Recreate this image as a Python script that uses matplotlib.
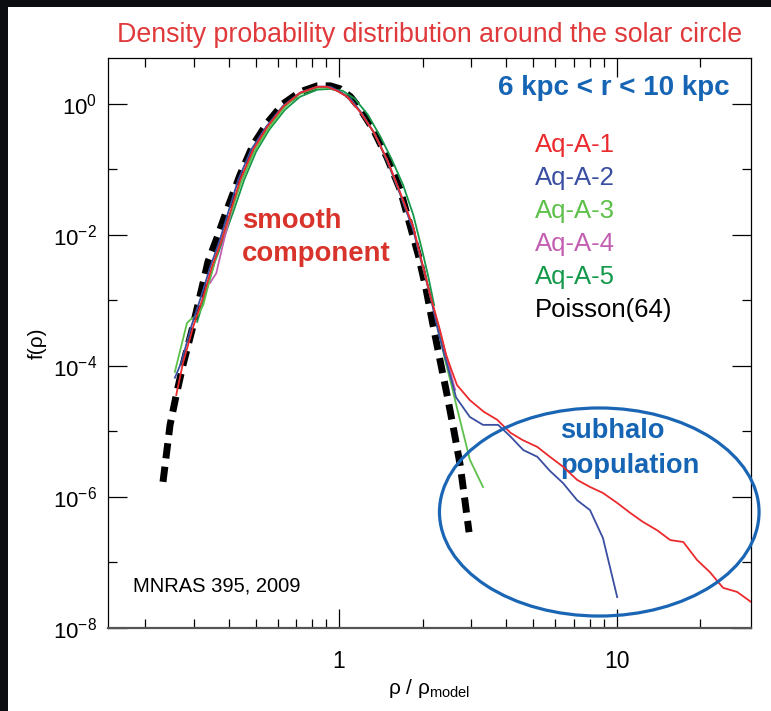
import matplotlib
matplotlib.use("Agg")
import matplotlib.pyplot as plt
from matplotlib.patches import Ellipse, Rectangle
from matplotlib.ticker import FixedLocator, FixedFormatter, NullFormatter

plt.rcParams['font.family'] = ['Liberation Sans', 'DejaVu Sans']
plt.rcParams['mathtext.fontset'] = 'custom'
plt.rcParams['mathtext.rm'] = 'Liberation Sans'

# Aq-A-1 (red), runs out into the subhalo tail
a1_x = [0.259, 0.274, 0.298, 0.324, 0.348, 0.378, 0.405, 0.440, 0.490, 0.551, 0.628, 0.723,
        0.834, 0.906, 0.984, 1.07, 1.19, 1.33, 1.49, 1.66, 1.85, 1.96, 2.13, 2.31, 2.43, 2.54,
        2.66, 2.96, 3.32, 3.71, 4.15, 4.58, 5.18, 5.75, 6.41, 7.21, 8.02, 8.93, 10.05, 11.2,
        12.4, 14.0, 15.6, 17.4, 19.5, 21.7, 24.2, 27.2, 30.5]
a1_f = [3.6e-5, 1.12e-4, 3.95e-4, 1.13e-3, 3.2e-3, 8.4e-3, 2.17e-2, 6.9e-2, 0.199, 0.446, 0.90,
        1.47, 1.82, 1.82, 1.58, 1.28, 0.755, 0.374, 0.140, 4.4e-2, 1.32e-2, 4.9e-3, 1.21e-3,
        3.5e-4, 1.48e-4, 8.7e-5, 5.1e-5, 3.0e-5, 2.0e-5, 1.51e-5, 9.5e-6, 7.4e-6, 5.8e-6,
        4.1e-6, 2.9e-6, 1.82e-6, 1.42e-6, 1.15e-6, 8.1e-7, 5.7e-7, 4.2e-7, 3.1e-7, 2.2e-7,
        2.05e-7, 1.09e-7, 7.1e-8, 4.1e-8, 3.55e-8, 2.5e-8]

# Aq-A-2 (blue)
a2_x = [0.256, 0.270, 0.293, 0.318, 0.343, 0.372, 0.398, 0.433, 0.482, 0.546, 0.628, 0.723,
        0.834, 0.929, 1.01, 1.10, 1.21, 1.35, 1.50, 1.67, 1.85, 1.97, 2.13, 2.27, 2.37, 2.51,
        2.64, 2.96, 3.30, 3.74, 4.13, 4.61, 5.18, 5.75, 6.41, 7.21, 8.02, 8.93, 10.05]
a2_f = [6.6e-5, 1.12e-4, 3.95e-4, 1.13e-3, 3.2e-3, 8.4e-3, 2.17e-2, 6.9e-2, 0.199, 0.446, 0.93,
        1.47, 1.82, 1.82, 1.52, 1.19, 0.70, 0.336, 0.126, 3.9e-2, 1.19e-2, 4.2e-3, 1.21e-3,
        3.5e-4, 1.75e-4, 7.3e-5, 3.3e-5, 1.66e-5, 1.26e-5, 1.26e-5, 8.5e-6, 5.2e-6, 4.1e-6,
        2.5e-6, 1.63e-6, 8.9e-7, 6.3e-7, 2.36e-7, 2.96e-8]

# Aq-A-3 (light green)
a3_x = [0.256, 0.283, 0.293, 0.310, 0.324, 0.343, 0.372, 0.405, 0.444, 0.494, 0.555, 0.633,
        0.723, 0.834, 0.929, 1.01, 1.10, 1.21, 1.35, 1.50, 1.67, 1.85, 1.97, 2.13, 2.29, 2.41,
        2.54, 2.68, 2.96, 3.30]
a3_f = [8.1e-5, 4.5e-4, 5.2e-4, 6.0e-4, 8.5e-4, 2.2e-3, 7.3e-3, 2.03e-2, 6.4e-2, 0.185, 0.415,
        0.87, 1.42, 1.75, 1.75, 1.52, 1.19, 0.70, 0.336, 0.126, 3.94e-2, 1.24e-2, 4.2e-3,
        1.21e-3, 3.3e-4, 1.23e-4, 5.1e-5, 2.0e-5, 3.7e-6, 1.42e-6]

# Aq-A-4 (magenta)
a4_x = [0.343, 0.361, 0.372, 0.385, 0.408, 0.444, 0.490, 0.551, 0.628, 0.723, 0.834, 0.906,
        0.984, 1.07, 1.19, 1.33, 1.49, 1.66, 1.85, 1.96, 2.13, 2.31, 2.45, 2.62]
a4_f = [1.86e-3, 2.6e-3, 4.5e-3, 8.4e-3, 2.17e-2, 6.9e-2, 0.199, 0.446, 0.90, 1.47, 1.82, 1.82,
        1.58, 1.28, 0.755, 0.374, 0.140, 4.4e-2, 1.28e-2, 4.8e-3, 1.17e-3, 3.3e-4, 1.23e-4,
        4.3e-5]

# Aq-A-5 (dark green)
a5_x = [0.308, 0.332, 0.357, 0.388, 0.418, 0.455, 0.502, 0.560, 0.638, 0.723, 0.834, 0.929,
        1.03, 1.14, 1.27, 1.41, 1.55, 1.70, 1.85, 1.99, 2.09, 2.20]
a5_f = [4.7e-4, 1.35e-3, 3.9e-3, 1.0e-2, 2.4e-2, 6.9e-2, 0.185, 0.401, 0.81, 1.28, 1.64, 1.69,
        1.58, 1.19, 0.68, 0.313, 0.140, 5.8e-2, 2.03e-2, 5.9e-3, 2.45e-3, 8.5e-4]

# Poisson(64) reference
poisson_x = [0.232, 0.246, 0.259, 0.274, 0.295, 0.316, 0.337, 0.361, 0.394, 0.440, 0.490, 0.551,
             0.628, 0.723, 0.834, 0.929, 1.01, 1.10, 1.19, 1.33, 1.49, 1.66, 1.80, 1.93, 2.06,
             2.18, 2.31, 2.45, 2.59, 2.73, 2.84, 2.94]
poisson_f = [1.7e-6, 1.26e-5, 3.6e-5, 1.04e-4, 3.5e-4, 1.21e-3, 3.9e-3, 8.4e-3, 2.4e-2, 8.3e-2,
             0.237, 0.513, 1.0, 1.52, 1.88, 1.88, 1.69, 1.28, 0.84, 0.401, 0.150, 4.9e-2,
             1.42e-2, 4.9e-3, 1.45e-3, 4.2e-4, 1.23e-4, 3.6e-5, 1.05e-5, 3.1e-6, 8.9e-7, 2.9e-7]

legend_names = ['Aq-A-1', 'Aq-A-2', 'Aq-A-3', 'Aq-A-4', 'Aq-A-5', 'Poisson(64)']
colors = ['#ea2a2d', '#3a4ea2', '#5dc04a', '#c35fb1', '#14994b', 'black']

y_major = [1e-8, 1e-6, 1e-4, 1e-2, 1e0]
y_major_labels = [r'$\mathregular{10^{-8}}$', r'$\mathregular{10^{-6}}$', r'$\mathregular{10^{-4}}$',
                  r'$\mathregular{10^{-2}}$', r'$\mathregular{10^{0}}$']
y_minor = [1e-7, 1e-5, 1e-3, 1e-1]
x_major = [1, 10]
x_minor = [0.2, 0.3, 0.4, 0.5, 0.6, 0.7, 0.8, 0.9, 2, 3, 4, 5, 6, 7, 8, 9, 20]

fig = plt.figure(figsize=(7.71, 7.11), dpi=100, facecolor='#0b0d10')
fig.patches.append(Rectangle((8 / 771, 0), 1, 1 - 7 / 711, transform=fig.transFigure,
                             facecolor='white', edgecolor='none', zorder=-10))

ax = fig.add_axes([108 / 771, 83 / 711, 643 / 771, 570 / 711])
ax.set_zorder(1)
ax.set_xscale('log')
ax.set_yscale('log')

series = [(a1_x, a1_f), (a2_x, a2_f), (a3_x, a3_f), (a4_x, a4_f), (a5_x, a5_f)]
order = [4, 3, 2, 1, 0]
for i in order:
    xs, fs = series[i]
    ax.plot(xs, fs, color=colors[i], lw=1.3, zorder=3 + (4 - i) * 0.1)
ax.plot(poisson_x, poisson_f, color='black', lw=5, ls=(0, (2.2, 1.2)), zorder=2)

ax.set_xlim(0.147, 30.5)
ax.set_ylim(1e-8, 5)

ax.yaxis.set_major_locator(FixedLocator(y_major))
ax.yaxis.set_major_formatter(FixedFormatter(y_major_labels))
ax.yaxis.set_minor_locator(FixedLocator(y_minor))
ax.yaxis.set_minor_formatter(NullFormatter())
ax.xaxis.set_major_locator(FixedLocator(x_major))
ax.xaxis.set_major_formatter(FixedFormatter(['1', '10']))
ax.xaxis.set_minor_locator(FixedLocator(x_minor))
ax.xaxis.set_minor_formatter(NullFormatter())

ax.tick_params(which='both', direction='in', top=True, right=True, width=0.9, color='black')
ax.tick_params(which='major', length=14)
ax.tick_params(which='minor', length=6.5)
ax.tick_params(axis='x', which='major', labelsize=16.5, pad=16)
ax.tick_params(axis='y', which='major', labelsize=16, pad=8)
for side in ['left', 'right', 'top']:
    ax.spines[side].set_linewidth(0.9)
ax.spines['bottom'].set_linewidth(1.6)
ax.spines['bottom'].set_color('#555555')

ax.set_xlabel('ρ / ρ$_{\\mathregular{model}}$', fontsize=15, labelpad=3)
ax.set_ylabel('f(ρ)', fontsize=15, labelpad=4)

fig.text(0.557, 0.941, 'Density probability distribution around the solar circle',
         color='#e0393b', fontsize=19.3, ha='center', va='baseline')

ax.text(0.967, (628 - 95) / 570, '6 kpc < r < 10 kpc', transform=ax.transAxes, ha='right',
        va='baseline', fontsize=20, fontweight='bold', color='#1565b4')
for k, name in enumerate(legend_names):
    ax.text(0.664, (628 - 152 - 33 * k) / 570, name, transform=ax.transAxes, ha='left',
            va='baseline', fontsize=18.5, color=colors[k])

ax.text(0.208, (628 - 228) / 570, 'smooth', transform=ax.transAxes, va='baseline',
        fontsize=19.8, fontweight='bold', color='#d9342b')
ax.text(0.208, (628 - 261) / 570, 'component', transform=ax.transAxes, va='baseline',
        fontsize=19.8, fontweight='bold', color='#d9342b')
ax.text(0.703, (628 - 438) / 570, 'subhalo', transform=ax.transAxes, va='baseline',
        fontsize=19.6, fontweight='bold', color='#1565b4')
ax.text(0.703, (628 - 473) / 570, 'population', transform=ax.transAxes, va='baseline',
        fontsize=19.6, fontweight='bold', color='#1565b4')
ax.text(0.039, (628 - 591) / 570, 'MNRAS 395, 2009', transform=ax.transAxes, va='baseline',
        fontsize=14.5, color='black')

ax.add_patch(Ellipse((0.764, 0.2035), 0.497, 0.365, transform=ax.transAxes, fill=False,
                     edgecolor='#1a66b5', lw=2.3, clip_on=False, zorder=4))

fig.savefig('out.png', dpi=100, facecolor=fig.get_facecolor())
